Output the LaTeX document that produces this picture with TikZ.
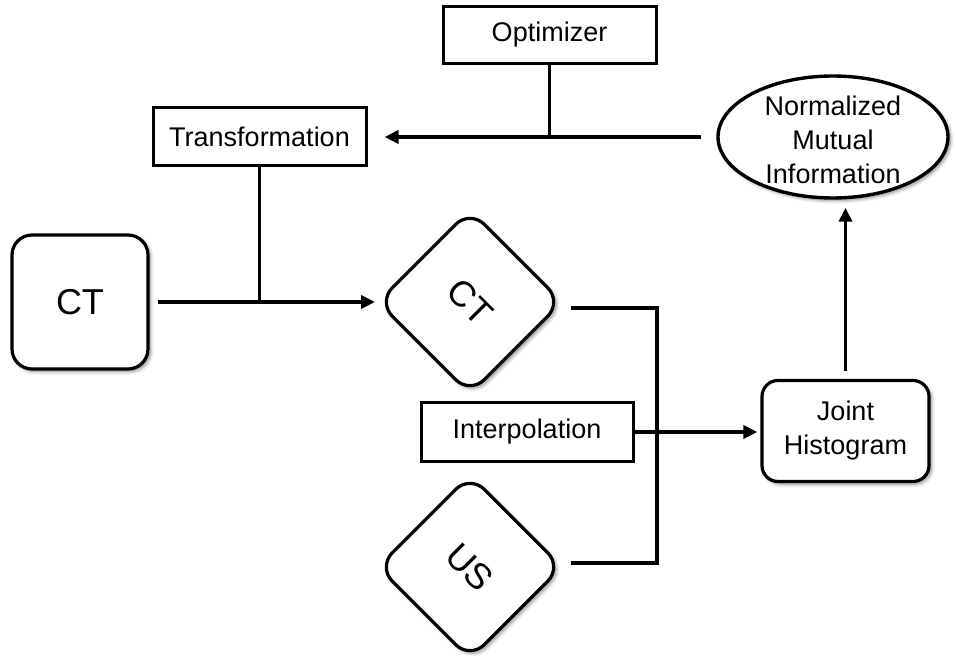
\documentclass[tikz,border=0pt]{standalone}
\usepackage{fontspec}
\setmainfont{Liberation Sans}
\usetikzlibrary{shapes.geometric,arrows.meta,shadows.blur,calc}

\begin{document}
\begin{tikzpicture}[x=1pt,y=-1pt,
  every node/.style={font=\fontsize{27}{34}\selectfont},
  plainbox/.style={draw, line width=3pt, rectangle, fill=white,
    minimum width=213pt, minimum height=57pt, inner sep=0pt},
  softshadow/.style={blur shadow={shadow xshift=2.5pt, shadow yshift=-2.5pt,
    shadow blur radius=3.5pt, shadow blur steps=8, shadow opacity=45}},
  roundbox/.style={draw, line width=3.2pt, rectangle, rounded corners=20pt,
    fill=white, softshadow, align=center, inner sep=0pt},
  diamondbox/.style={roundbox, minimum width=130pt, minimum height=130pt,
    rotate=-45, font=\fontsize{36}{40}\selectfont},
  wire/.style={line width=3.6pt},
  arr/.style={wire, -{Triangle[length=14pt,width=13pt]}}
]
\useasboundingbox (0,0) rectangle (956,658);

% blocks
\node[plainbox] (opt) at (549.5,35) {Optimizer};
\node[plainbox, minimum height=58pt] (trans) at (259.5,137) {Transformation};
\node[draw, ellipse, line width=3.4pt, fill=white, softshadow,
      minimum width=230pt, minimum height=122pt, inner sep=0pt] (nmi) at (833,137) {};
\node[align=center] (nmitext) at (833,140) {Normalized\\Mutual\\Information};

\node[roundbox, minimum width=136pt, minimum height=134pt,
      font=\fontsize{36}{40}\selectfont] (ct) at (80,302) {CT};
\node[diamondbox] (ctd) at (470,302) {CT};
\node[diamondbox] (us) at (470,567) {US};

\node[plainbox, minimum width=212pt, minimum height=59pt] (interp) at (527,432) {Interpolation};
\node[roundbox, rounded corners=16pt, minimum width=167pt, minimum height=101pt]
      (jh) at (845.5,431) {Joint\\Histogram};

% junction points
\coordinate (jtop) at (opt.south |- nmi.west);
\coordinate (jmid) at (trans.south |- ct.east);
\coordinate (ctout) at (571,308);
\coordinate (usout) at (571,563);
\coordinate (bt) at (657,308);
\coordinate (bb) at (657,563);
\coordinate (bus) at (bt |- interp.east);

% connectors
\draw[arr] ([xshift=-15pt]nmi.west) -- ([xshift=17pt]trans.east);
\draw[wire] (opt.south) -- (jtop);
\draw[wire] (trans.south) -- (jmid);
\draw[arr] ([xshift=8pt]ct.east) -- ($(ctd.center)+(-95,0)$);
\draw[wire] (ctout) -- (bt) -- (bb) -- (usout);
\draw[wire] (interp.east) -- (bus);
\draw[arr, shorten >=3pt] (bus) -- (bus -| jh.west);
\draw[arr] ([yshift=8pt]jh.north) -- ([yshift=-8pt]jh.north |- nmi.south);
\end{tikzpicture}
\end{document}
